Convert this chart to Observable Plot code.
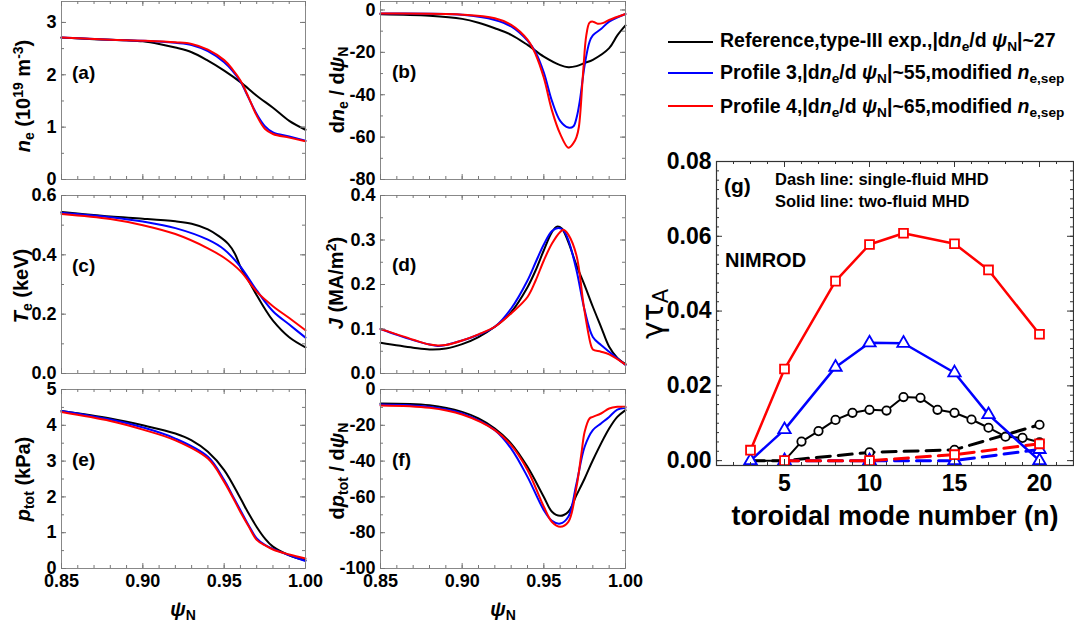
<!DOCTYPE html>
<html><head><meta charset="utf-8">
<script src="https://cdn.jsdelivr.net/npm/d3@7"></script>
<script src="https://cdn.jsdelivr.net/npm/@observablehq/plot@0.6"></script>
<style>
body{margin:0;background:#fff}
#fig{position:relative;width:1074px;height:626px;overflow:hidden;font-family:"Liberation Sans",Arial,sans-serif;font-weight:bold;color:#000;background:#fff}
.svgbox{position:absolute}
.svgbox svg{overflow:visible;max-width:none}
.t{position:absolute;white-space:nowrap;line-height:1}
.t sub,.t sup{font-size:70%;line-height:0}
.t sub{vertical-align:-0.25em}
.t sup{vertical-align:0.5em}
.rot{transform:translate(-50%,-50%) rotate(-90deg)}
.cen{transform:translate(-50%,-50%)}
.vc{transform:translate(0,-50%)}
.sw{position:absolute}
</style></head><body><div id="fig"></div><script>
// ---------- data: panel (a) n_e ----------
const neRef = [[0.85,2.71],[0.87,2.68],[0.89,2.66],[0.90,2.64],[0.91,2.59],[0.92,2.52],[0.93,2.43],[0.94,2.27],[0.95,2.08],[0.96,1.86],[0.97,1.60],[0.98,1.37],[0.99,1.12],[1.00,0.95]];
const neP3 = [[0.85,2.71],[0.88,2.67],[0.90,2.65],[0.92,2.61],[0.93,2.57],[0.94,2.45],[0.95,2.24],[0.955,2.08],[0.96,1.87],[0.965,1.56],[0.97,1.25],[0.975,1.02],[0.98,0.90],[0.99,0.82],[1.00,0.74]];
const neP4 = [[0.85,2.71],[0.88,2.67],[0.90,2.65],[0.92,2.62],[0.93,2.59],[0.94,2.48],[0.95,2.28],[0.955,2.11],[0.96,1.89],[0.965,1.57],[0.97,1.22],[0.975,0.97],[0.98,0.87],[0.99,0.80],[1.00,0.73]];
// ---------- panel (b) dn_e/dpsi ----------
const dneRef = [[0.85,-2],[0.88,-2.7],[0.90,-4.2],[0.91,-6],[0.92,-8.6],[0.93,-11.7],[0.94,-16.5],[0.95,-22],[0.96,-26],[0.965,-27],[0.97,-26.5],[0.975,-25],[0.98,-23.5],[0.99,-18],[0.995,-12],[1.00,-7.3]];
const dneP3 = [[0.85,-1.7],[0.90,-2.3],[0.92,-4.7],[0.93,-7.8],[0.94,-14.5],[0.945,-20],[0.95,-29.5],[0.955,-43],[0.96,-52.3],[0.965,-55.5],[0.968,-55],[0.97,-51],[0.972,-43],[0.975,-26],[0.978,-15],[0.98,-12],[0.985,-9],[0.99,-5.5],[1.00,-1.9]];
const dneP4 = [[0.85,-1.7],[0.90,-2.2],[0.92,-3.9],[0.93,-7],[0.94,-14],[0.945,-21],[0.95,-32],[0.955,-47.5],[0.96,-58.5],[0.965,-65],[0.968,-63],[0.97,-60],[0.9715,-55],[0.974,-30],[0.976,-12],[0.978,-6],[0.98,-5.5],[0.983,-6.5],[0.986,-6.2],[0.99,-4.7],[1.00,-1.9]];
// ---------- panel (c) T_e ----------
const teRef = [[0.85,0.544],[0.88,0.529],[0.90,0.522],[0.92,0.513],[0.93,0.505],[0.94,0.486],[0.9465,0.464],[0.9525,0.437],[0.9566,0.404],[0.96,0.36],[0.965,0.313],[0.97,0.264],[0.975,0.218],[0.98,0.178],[0.99,0.122],[1.00,0.088]];
const teP3 = [[0.85,0.542],[0.88,0.527],[0.90,0.512],[0.92,0.49],[0.94,0.451],[0.95,0.418],[0.96,0.36],[0.97,0.28],[0.98,0.21],[0.99,0.165],[1.00,0.121]];
const teP4 = [[0.85,0.538],[0.88,0.521],[0.90,0.50],[0.92,0.47],[0.94,0.422],[0.95,0.39],[0.96,0.345],[0.97,0.276],[0.98,0.227],[0.99,0.187],[1.00,0.146]];
// ---------- panel (d) J ----------
const jRef = [[0.85,0.069],[0.87,0.058],[0.88,0.054],[0.89,0.056],[0.90,0.066],[0.91,0.082],[0.92,0.105],[0.93,0.138],[0.94,0.194],[0.945,0.232],[0.95,0.277],[0.955,0.318],[0.958,0.33],[0.961,0.326],[0.965,0.295],[0.97,0.243],[0.975,0.198],[0.98,0.15],[0.985,0.105],[0.99,0.06],[0.995,0.035],[1.00,0.021]];
const jP3 = [[0.85,0.1],[0.86,0.087],[0.87,0.075],[0.88,0.065],[0.885,0.062],[0.89,0.064],[0.90,0.074],[0.91,0.087],[0.92,0.105],[0.93,0.146],[0.94,0.209],[0.945,0.25],[0.95,0.29],[0.955,0.32],[0.959,0.327],[0.962,0.322],[0.965,0.30],[0.97,0.232],[0.975,0.142],[0.98,0.082],[0.985,0.064],[0.99,0.049],[1.00,0.019]];
const jP4 = [[0.85,0.1],[0.86,0.088],[0.87,0.076],[0.88,0.065],[0.885,0.063],[0.89,0.064],[0.90,0.074],[0.91,0.088],[0.92,0.105],[0.93,0.135],[0.94,0.172],[0.945,0.209],[0.95,0.254],[0.955,0.292],[0.96,0.318],[0.962,0.323],[0.965,0.312],[0.97,0.265],[0.9745,0.15],[0.9786,0.067],[0.98,0.054],[0.985,0.049],[0.99,0.043],[1.00,0.02]];
// ---------- panel (e) p_tot ----------
const pRef = [[0.85,4.40],[0.88,4.19],[0.90,4.0],[0.92,3.77],[0.93,3.58],[0.94,3.26],[0.95,2.75],[0.96,1.96],[0.965,1.54],[0.97,1.16],[0.975,0.84],[0.98,0.61],[0.99,0.37],[1.00,0.23]];
const pP3 = [[0.85,4.40],[0.88,4.16],[0.90,3.94],[0.92,3.63],[0.94,3.12],[0.95,2.47],[0.955,2.05],[0.96,1.63],[0.965,1.21],[0.97,0.84],[0.975,0.66],[0.98,0.55],[0.99,0.37],[1.00,0.21]];
const pP4 = [[0.85,4.37],[0.88,4.12],[0.90,3.88],[0.92,3.58],[0.94,3.07],[0.95,2.42],[0.96,1.58],[0.965,1.18],[0.97,0.80],[0.975,0.65],[0.98,0.53],[0.99,0.39],[1.00,0.28]];
// ---------- panel (f) dp_tot/dpsi ----------
const dpRef = [[0.85,-7.8],[0.88,-8.8],[0.90,-12.5],[0.91,-16.2],[0.92,-21.8],[0.93,-30.2],[0.94,-43.2],[0.95,-60],[0.955,-68.3],[0.96,-70.6],[0.965,-68.3],[0.97,-59],[0.975,-49.7],[0.98,-39.5],[0.99,-21.8],[0.995,-15.3],[1.00,-11.5]];
const dpP3 = [[0.85,-8.4],[0.88,-9.7],[0.90,-13.4],[0.92,-22.7],[0.93,-33],[0.94,-48.8],[0.95,-67.4],[0.955,-73.4],[0.96,-74.9],[0.965,-71.1],[0.97,-52.5],[0.975,-32],[0.98,-22.7],[0.985,-19],[0.99,-15.3],[0.995,-11.2],[1.00,-10.2]];
const dpP4 = [[0.85,-8.9],[0.88,-10.2],[0.90,-14],[0.92,-22.7],[0.93,-31.1],[0.94,-45],[0.95,-65.5],[0.955,-74],[0.96,-76.7],[0.965,-74],[0.97,-54.4],[0.973,-35.8],[0.975,-23.6],[0.978,-16.2],[0.98,-15.3],[0.985,-13.4],[0.99,-10.6],[0.995,-9.7],[1.00,-9.7]];
// ---------- panel (g) growth rates ----------
const nTwoRed = [3,5,8,10,12,15,17,20];
const gTwoRed = [0.0028,0.0245,0.048,0.0578,0.0608,0.058,0.051,0.0338];
const nTwoBlue = [3,5,8,10,12,15,17,20];
const gTwoBlue = [0,0.0083,0.025,0.0315,0.0314,0.0235,0.0123,0];
const nTwoBlack = [3,5,6,7,8,9,10,11,12,13,14,15,16,17,18,19,20];
const gTwoBlack = [0,0,0.0051,0.0079,0.0109,0.0128,0.0136,0.0134,0.017,0.0168,0.0136,0.0128,0.011,0.0088,0.0064,0.0061,0.0049];
const nOneBlack = [3,5,10,15,20];
const gOneBlack = [0,0,0.0022,0.0029,0.0096];
const nOneBlue = [5,10,15,20];
const gOneBlue = [0,0,0,0.003];
const nOneRed = [5,10,15,20];
const gOneRed = [0,0,0.0016,0.0045];
// ---------- ticks ----------
const psiTicks = [0.85,0.90,0.95,1.00];
const nTicks = [5,10,15,20];
const gTicks = [0,0.02,0.04,0.06,0.08];

const fig = document.getElementById("fig");
const FONT = '"Liberation Sans", Arial, sans-serif';
const BLACK = "#000000", BLUE = "#0000ff", RED = "#ff0000";

function place(svg, left, top) {
  const d = document.createElement("div");
  d.className = "svgbox"; d.style.left = left + "px"; d.style.top = top + "px";
  d.appendChild(svg); fig.appendChild(d);
}
function label(html, x, y, cls, size, extra) {
  const d = document.createElement("div");
  d.className = "t " + (cls || "");
  d.style.left = x + "px"; d.style.top = y + "px";
  d.style.fontSize = size + "px";
  if (extra) Object.assign(d.style, extra);
  d.innerHTML = html; fig.appendChild(d);
}
// inward tick marks on all four sides of the frame (W,H = frame size in px)
function tickMarks(xMajor, xMinor, yMajor, yMinor, stroke, maj, min, W, H) {
  const o = {stroke, strokeWidth: 1};
  return [
    Plot.tickX(xMajor, {...o, x: d => d, insetTop: H - maj}),
    Plot.tickX(xMajor, {...o, x: d => d, insetBottom: H - maj}),
    Plot.tickX(xMinor, {...o, x: d => d, insetTop: H - min}),
    Plot.tickX(xMinor, {...o, x: d => d, insetBottom: H - min}),
    Plot.tickY(yMajor, {...o, y: d => d, insetRight: W - maj}),
    Plot.tickY(yMajor, {...o, y: d => d, insetLeft: W - maj}),
    Plot.tickY(yMinor, {...o, y: d => d, insetRight: W - min}),
    Plot.tickY(yMinor, {...o, y: d => d, insetLeft: W - min})
  ];
}
const psiMinor = d3.range(0, 16).map(i => 0.85 + i * 0.01);

function profilePanel(series, cfg) {
  const W = cfg.width - 61 - 15, H = cfg.height - cfg.mt - cfg.mb;
  const marks = [
    ...series.map(([data, color]) => Plot.line(data, {x: d => d[0], y: d => d[1], stroke: color, strokeWidth: 2, curve: "catmull-rom"})),
    Plot.frame({stroke: "#888", strokeWidth: 1}),
    ...tickMarks(psiTicks, psiMinor, cfg.yTicks, cfg.yMinor, "#777", 5, 3, W, H),
    Plot.axisY(cfg.yTicks, {anchor: "left", tickSize: 0, tickPadding: 5, tickFormat: cfg.fmt, label: null})
  ];
  if (cfg.showX) marks.push(Plot.axisX(psiTicks, {anchor: "bottom", tickSize: 0, tickPadding: 6, tickFormat: d => d.toFixed(2), label: null}));
  return Plot.plot({
    width: cfg.width, height: cfg.height,
    marginLeft: 61, marginRight: 15, marginTop: cfg.mt, marginBottom: cfg.mb,
    x: cfg.showX ? {domain: [0.85, 1.0]} : {domain: [0.85, 1.0], axis: null},
    y: {domain: cfg.yDomain},
    style: {fontFamily: FONT, fontSize: "18px", fontWeight: "bold", background: "transparent", color: "#000", overflow: "visible"},
    marks
  });
}
const S = String, F1 = d => d.toFixed(1);
const rowA = {height: 182, mt: 1, mb: 3}, rowC = {height: 191, mt: 10, mb: 3}, rowE = {height: 247, mt: 10, mb: 58, showX: true};

place(profilePanel([[neRef, BLACK],[neP3, BLUE],[neP4, RED]], {...rowA, width: 320, yDomain: [0, 3.4], yTicks: [0,1,2,3], yMinor: d3.range(0, 7).map(i => i * 0.5), fmt: S}), 0, 0);
place(profilePanel([[dneRef, BLACK],[dneP3, BLUE],[dneP4, RED]], {...rowA, width: 321, yDomain: [-80, 4], yTicks: [-80,-60,-40,-20,0], yMinor: d3.range(0, 9).map(i => -80 + i * 10), fmt: S}), 319, 0);
place(profilePanel([[teRef, BLACK],[teP3, BLUE],[teP4, RED]], {...rowC, width: 320, yDomain: [0, 0.6], yTicks: [0,0.2,0.4,0.6], yMinor: d3.range(0, 7).map(i => i * 0.1), fmt: F1}), 0, 185);
place(profilePanel([[jRef, BLACK],[jP3, BLUE],[jP4, RED]], {...rowC, width: 321, yDomain: [0, 0.4], yTicks: [0,0.1,0.2,0.3,0.4], yMinor: d3.range(0, 9).map(i => i * 0.05), fmt: F1}), 319, 185);
place(profilePanel([[pRef, BLACK],[pP3, BLUE],[pP4, RED]], {...rowE, width: 320, yDomain: [0, 5], yTicks: [0,1,2,3,4,5], yMinor: d3.range(0, 11).map(i => i * 0.5), fmt: S}), 0, 379);
place(profilePanel([[dpRef, BLACK],[dpP3, BLUE],[dpP4, RED]], {...rowE, width: 321, yDomain: [-100, 0], yTicks: [-100,-80,-60,-40,-20,0], yMinor: d3.range(0, 11).map(i => -100 + i * 10), fmt: S}), 319, 379);

// ---------- panel (g) ----------
const zipG = (ns, gs) => ns.map((n, i) => ({n, g: gs[i]}));
const sBlack1 = zipG(nOneBlack, gOneBlack), sBlue1 = zipG(nOneBlue, gOneBlue), sRed1 = zipG(nOneRed, gOneRed);
const sBlack2 = zipG(nTwoBlack, gTwoBlack), sBlue2 = zipG(nTwoBlue, gTwoBlue), sRed2 = zipG(nTwoRed, gTwoRed);
const dash = {x: "n", y: "g", strokeWidth: 3, strokeDasharray: "14,8"};
const solid = {x: "n", y: "g", strokeWidth: 2.5};
const dotO = {x: "n", y: "g", fill: "white", strokeWidth: 1.8};
const gW = 444 - 86 - 1, gH = 390 - 11 - 75;
const gPlot = Plot.plot({
  width: 444, height: 390, marginLeft: 86, marginRight: 1, marginTop: 11, marginBottom: 75,
  x: {domain: [1, 22]}, y: {domain: [-0.0013, 0.08]},
  style: {fontFamily: FONT, fontSize: "23px", fontWeight: "bold", background: "transparent", color: "#000", overflow: "visible"},
  marks: [
    Plot.line(sBlack1, {...dash, stroke: BLACK}),
    Plot.dot(sBlack1.filter(d => d.n >= 10), {...dotO, stroke: BLACK, symbol: "circle", r: 4.2}),
    Plot.line(sBlack2, {...solid, stroke: BLACK, strokeWidth: 2}),
    Plot.dot(sBlack2.filter(d => d.n >= 6), {...dotO, stroke: BLACK, symbol: "circle", r: 4.2}),
    Plot.line(sBlue1, {...dash, stroke: BLUE}),
    Plot.dot(sBlue1, {...dotO, stroke: BLUE, symbol: "triangle", r: 4.6}),
    Plot.line(sRed1, {...dash, stroke: RED}),
    Plot.dot(sRed1, {...dotO, stroke: RED, symbol: "square", r: 5}),
    Plot.line(sBlue2, {...solid, stroke: BLUE}),
    Plot.dot(sBlue2, {...dotO, stroke: BLUE, symbol: "triangle", r: 4.6}),
    Plot.line(sRed2, {...solid, stroke: RED}),
    Plot.dot(sRed2, {...dotO, stroke: RED, symbol: "square", r: 5}),
    Plot.frame({stroke: "#333", strokeWidth: 1.2}),
    ...tickMarks(nTicks, d3.range(1, 23), gTicks, d3.range(0, 33).map(i => i * 0.0025), "#333", 6, 3, gW, gH),
    Plot.axisY(gTicks, {anchor: "left", tickSize: 0, tickPadding: 5, tickFormat: d => d.toFixed(2), label: null}),
    Plot.axisX(nTicks, {anchor: "bottom", tickSize: 0, tickPadding: 9, tickFormat: S, label: null})
  ]
});
place(gPlot, 630, 150);

// ---------- text ----------
const psiN = '<i>ψ</i><sub>N</sub>';
label('<i>n</i><sub>e</sub> (10<sup>19</sup> m<sup>-3</sup>)', 23, 96, "rot", 20);
label('d<i>n</i><sub>e</sub> / d' + psiN, 337, 90, "rot", 20);
label('<i>T</i><sub>e</sub> (keV)', 21, 286, "rot", 20);
label('<i>J</i> (MA/m<sup>2</sup>)', 336, 283, "rot", 20);
label('<i>p</i><sub>tot</sub> (kPa)', 23, 479, "rot", 20);
label('d<i>p</i><sub>tot</sub> / d' + psiN, 337, 471, "rot", 20);
label(psiN, 183, 609, "cen", 20);
label(psiN, 503, 609, "cen", 20);
[["(a)",72,72],["(b)",392,71],["(c)",72,265],["(d)",392,264],["(e)",72,459],["(f)",392,459]].forEach(([t,x,y]) => label(t, x, y, "vc", 19));

// legend
[[BLACK, 42, 1.5],[BLUE, 73, 2.7],[RED, 106, 2.2]].forEach(([c, y, w]) => {
  const s = document.createElement("div"); s.className = "sw";
  Object.assign(s.style, {left: "668px", top: (y - w / 2) + "px", width: "45px", height: w + "px", background: c});
  fig.appendChild(s);
});
const dn = '|d<i>n</i><sub>e</sub>/d <i>ψ</i><sub>N</sub>|';
label('Reference,type-III exp.,' + dn + '~27', 720, 41, "vc", 19.5);
label('Profile 3,' + dn + '~55,modified <i>n</i><sub>e,sep</sub>', 720, 73, "vc", 19.5);
label('Profile 4,' + dn + '~65,modified <i>n</i><sub>e,sep</sub>', 720, 107, "vc", 19.5);

// panel g annotations
label('(g)', 724, 185, "vc", 21);
label('Dash line: single-fluid MHD', 775, 179, "vc", 16.5);
label('Solid line: two-fluid MHD', 775, 201, "vc", 16.5);
label('NIMROD', 725, 260, "vc", 20);
label('γτ<sub>A</sub>', 653, 314, "rot", 30, {fontWeight: "normal", fontFamily: '"DejaVu Sans", sans-serif'});
label('toroidal mode number (n)', 895, 516, "cen", 27);
</script></body></html>
